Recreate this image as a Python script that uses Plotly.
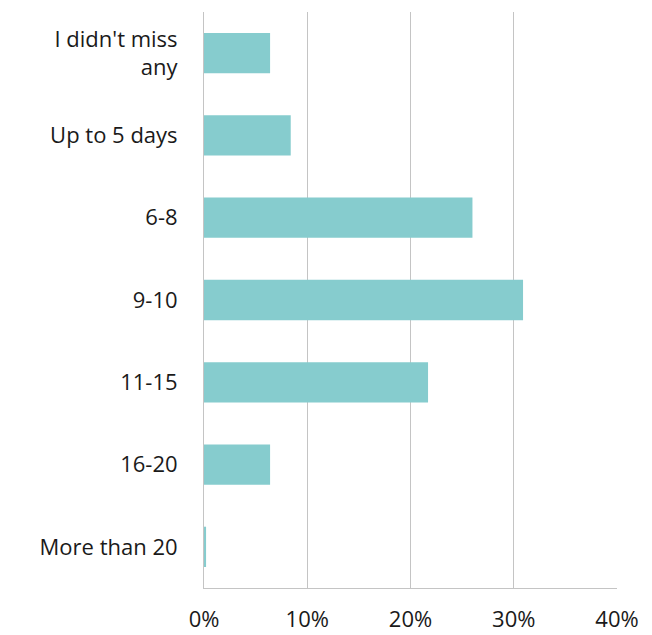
import plotly.graph_objects as go

# Days missed, share of respondents (%)
categories = ["I didn't miss<br>any", "Up to 5 days", "6-8", "9-10", "11-15", "16-20", "More than 20"]
shares = [6.4, 8.4, 26.0, 30.9, 21.7, 6.4, 0.2]
x_ticks = [0, 10, 20, 30, 40]
x_tick_labels = ["0%", "10%", "20%", "30%", "40%"]

font_family = "'Open Sans', Lato, sans-serif"

fig = go.Figure(
    go.Bar(
        x=shares,
        y=categories,
        orientation="h",
        marker=dict(color="#86CCCE", line=dict(width=0)),
        width=0.49,
    )
)

fig.update_layout(
    width=652,
    height=635,
    margin=dict(l=204, r=35, t=12, b=47),
    paper_bgcolor="white",
    plot_bgcolor="white",
    showlegend=False,
    font=dict(family=font_family, size=22, color="#1a1a1a"),
    xaxis=dict(
        range=[0, 40],
        tickvals=x_ticks,
        ticktext=x_tick_labels,
        showgrid=True,
        gridcolor="#c4c4c4",
        gridwidth=1,
        zeroline=False,
        showline=True,
        linecolor="#c4c4c4",
        linewidth=1,
        ticks="",
        tickfont=dict(size=22),
        ticklabelstandoff=12,
        automargin=False,
        fixedrange=True,
    ),
    yaxis=dict(
        categoryorder="array",
        categoryarray=categories,
        autorange="reversed",
        showgrid=False,
        zeroline=False,
        showline=True,
        linecolor="#c4c4c4",
        linewidth=1,
        ticks="",
        tickfont=dict(size=22),
        ticklabelstandoff=21,
        automargin=False,
        fixedrange=True,
    ),
)

fig.write_html("out.html")
